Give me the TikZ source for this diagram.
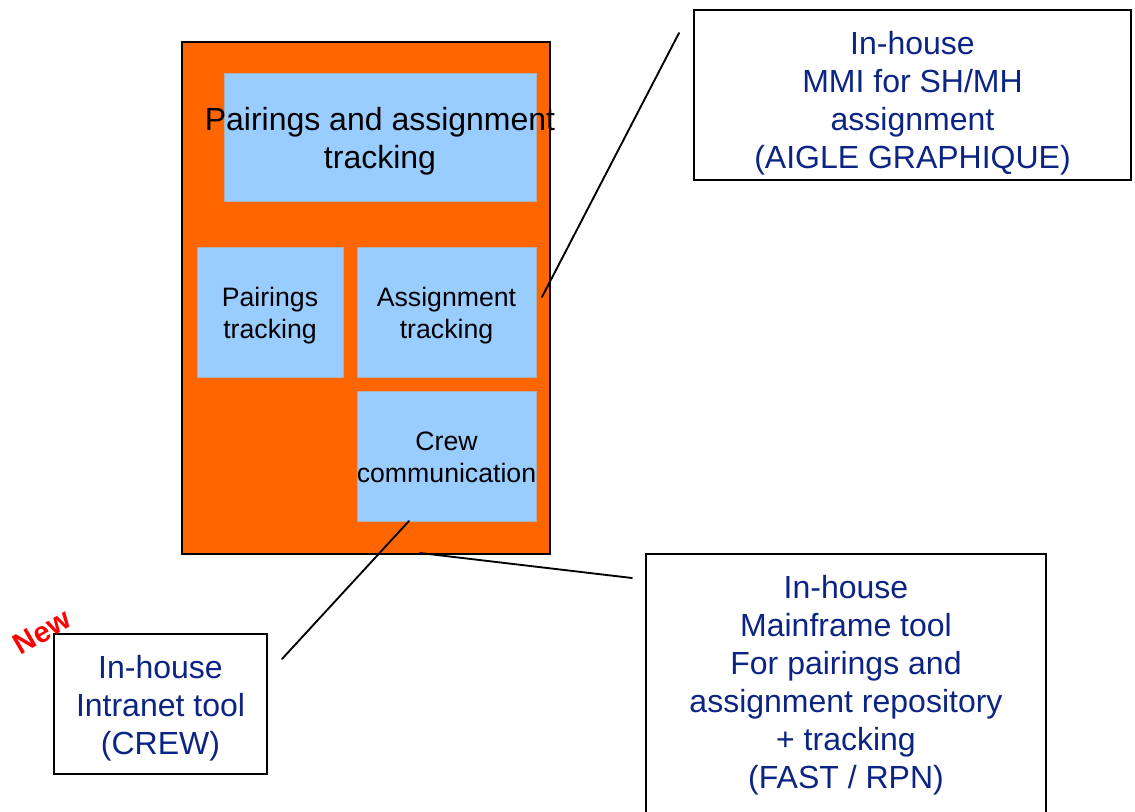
\documentclass[tikz,border=0pt]{standalone}
\usepackage{fontspec}
\setmainfont{Liberation Sans}
\usepackage{xcolor}
\usetikzlibrary{positioning, calc}

\definecolor{frameorange}{RGB}{255,102,0}
\definecolor{funcblue}{RGB}{153,204,255}
\definecolor{funcedge}{RGB}{176,176,176}
\definecolor{tooltext}{RGB}{12,36,132}

\tikzset{
  funcbox/.style={draw=funcedge, fill=funcblue, inner sep=0pt},
  functext/.style={align=center, inner sep=0pt, font=\fontsize{20}{24}\selectfont},
  toolbox/.style={draw=black, line width=1.3pt, fill=white, inner sep=0pt},
  tooltxt/.style={align=center, inner sep=0pt, text=tooltext, font=\fontsize{24}{28.5}\selectfont},
  link/.style={line width=1.4pt, line cap=round}
}

\begin{document}
\begin{tikzpicture}[x=0.75pt, y=-0.75pt]
    % page frame
    \useasboundingbox (0,0) rectangle (1135,812);

    % Orange area with the functions
    \node[draw=black, line width=1.3pt, fill=frameorange, minimum width=276pt, minimum height=384pt] (area) at (366,298) {};
    \node[funcbox, minimum width=234pt, minimum height=96pt] (pat) at (380,137) {};
    \node[functext, font=\fontsize{24}{28.5}\selectfont] (pattext) at (380,141) {Pairings and assignment\\tracking};
    \node[funcbox, minimum width=109.5pt, minimum height=97.5pt] (pairtrk) at (270,312) {};
    \node[functext] (pairtext) at (270,316) {Pairings\\tracking};
    \node[funcbox, minimum width=134.25pt, minimum height=97.5pt] (assigntrk) at (446.5,312) {};
    \node[functext] (assigntext) at (446.5,316) {Assignment\\tracking};
    \node[funcbox, minimum width=134.25pt, minimum height=97.5pt] (crewcom) at (446.5,456) {};
    \node[functext] (crewcomtext) at (446.5,457) {Crew\\communication};

    % Tools
    \node[toolbox, minimum width=327.75pt, minimum height=127.5pt] (aigle) at (912.5,95) {};
    \node[tooltxt] (aigletext) at (912.5,103) {In-house\\MMI for SH/MH\\assignment\\(AIGLE GRAPHIQUE)};
    \node[toolbox, minimum width=300pt, minimum height=201pt] (fast) at (846,688) {};
    \node[tooltxt] (fasttext) at (846,685) {In-house\\Mainframe tool\\For pairings and\\assignment repository\\+ tracking\\(FAST / RPN)};
    \node[toolbox, minimum width=159.75pt, minimum height=105pt] (crewtool) at (160.5,704) {};
    \node[tooltxt] (crewtooltext) at (160.5,708) {In-house\\Intranet tool\\(CREW)};
    \node[text=red, font=\fontsize{22}{26}\selectfont\bfseries, rotate=30, inner sep=0pt] (new) at (42,632) {New};

    % Connectors
    \coordinate (aiglein) at (679,33);
    \coordinate (assignout) at (542,297);
    \coordinate (crewin) at (282,659);
    \coordinate (crewout) at (409,521);
    \coordinate (fastin) at (632,578);
    \coordinate (areaout) at (420,553);
    \draw[link] (assignout) -- (aiglein);
    \draw[link] (crewout) -- (crewin);
    \draw[link] (areaout) -- (fastin);
\end{tikzpicture}
\end{document}
